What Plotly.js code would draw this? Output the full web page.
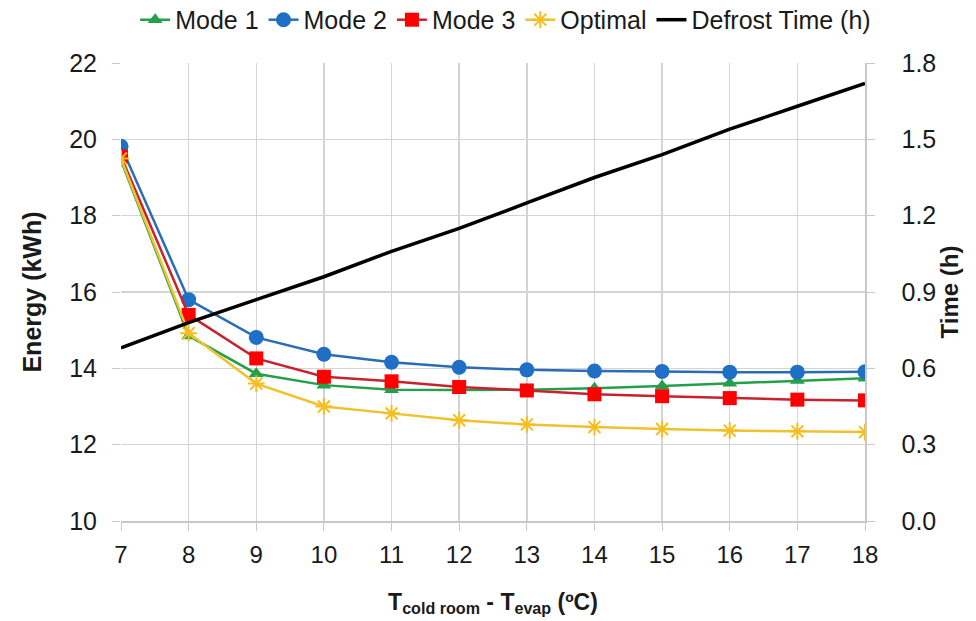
<!DOCTYPE html>
<html>
<head>
<meta charset="utf-8">
<script src="https://cdn.plot.ly/plotly-3.0.1.min.js"></script>
<style>html,body{margin:0;padding:0;background:#fff;}#chart{width:976px;height:621px;}</style>
</head>
<body>
<div id="chart"></div>
<script>
const deltaT = [7, 8, 9, 10, 11, 12, 13, 14, 15, 16, 17, 18];
const mode1 = [19.45, 14.85, 13.86, 13.56, 13.44, 13.43, 13.44, 13.48, 13.54, 13.61, 13.68, 13.74];
const mode2 = [19.82, 15.8, 14.81, 14.37, 14.16, 14.03, 13.96, 13.93, 13.92, 13.9, 13.9, 13.91];
const mode3 = [19.55, 15.4, 14.26, 13.78, 13.66, 13.51, 13.42, 13.32, 13.27, 13.22, 13.18, 13.16];
const optimal = [19.5, 14.92, 13.6, 13.0, 12.82, 12.64, 12.53, 12.46, 12.41, 12.37, 12.35, 12.33];
const defrostTime = [0.68, 0.78, 0.87, 0.96, 1.06, 1.15, 1.25, 1.35, 1.44, 1.54, 1.63, 1.72];

const FONT = 'Liberation Sans, Arial, sans-serif';
const TXT = '#1a1a1a';

const traces = [
  {x: deltaT, y: mode1, name: 'Mode 1', mode: 'lines+markers', type: 'scatter',
   line: {color: '#23a049', width: 2.5}, marker: {symbol: 'triangle-up', size: 13, color: '#23a049'}},
  {x: deltaT, y: mode2, name: 'Mode 2', mode: 'lines+markers', type: 'scatter',
   line: {color: '#2a6cb5', width: 2.5}, marker: {symbol: 'circle', size: 15, color: '#1f6fc6'}},
  {x: deltaT, y: mode3, name: 'Mode 3', mode: 'lines+markers', type: 'scatter',
   line: {color: '#c8222e', width: 2.5}, marker: {symbol: 'square', size: 14, color: '#ff0000'}},
  {x: deltaT, y: optimal, name: 'Optimal', mode: 'lines+markers', type: 'scatter',
   line: {color: '#f2c12e', width: 2.5}, marker: {symbol: 'asterisk-open', size: 14, color: '#f5bd1f', line: {color: '#f5bd1f', width: 2}}},
  {x: deltaT, y: defrostTime, name: 'Defrost Time (h)', mode: 'lines', type: 'scatter', yaxis: 'y2',
   line: {color: '#000000', width: 3.5}}
];

const layout = {
  width: 976, height: 621,
  margin: {l: 121, r: 111, t: 63, b: 100, autoexpand: false},
  paper_bgcolor: '#ffffff', plot_bgcolor: '#ffffff',
  font: {family: FONT, size: 24, color: TXT},
  showlegend: true,
  legend: {orientation: 'h', x: 0.517, xanchor: 'center', y: 1.094, yanchor: 'middle',
           font: {family: FONT, size: 25, color: TXT}, itemwidth: 30,
           bgcolor: 'rgba(0,0,0,0)'},
  xaxis: {
    range: [7, 18], tickmode: 'linear', tick0: 7, dtick: 1,
    showgrid: true, gridcolor: '#d4d4d4', gridwidth: 1.5,
    showline: true, linecolor: '#c8c8c8', linewidth: 1.5,
    ticks: 'outside', ticklen: 8, tickcolor: '#c8c8c8', ticklabelstandoff: 4,
    zeroline: false,
    tickfont: {family: FONT, size: 24, color: TXT},
    title: {text: '<b>T<sub>cold room</sub> - T<sub>evap</sub> (ºC)</b>', font: {family: FONT, size: 23, color: TXT}, standoff: 26}
  },
  yaxis: {
    range: [10, 22], tickmode: 'linear', tick0: 10, dtick: 2,
    showgrid: true, gridcolor: '#d4d4d4', gridwidth: 1.5,
    showline: false, zeroline: false,
    ticks: 'outside', ticklen: 8, tickcolor: '#c8c8c8', ticklabelstandoff: 10,
    tickfont: {family: FONT, size: 25, color: TXT},
    title: {text: '<b>Energy (kWh)</b>', font: {family: FONT, size: 25, color: TXT}, standoff: 20}
  },
  yaxis2: {
    range: [0, 1.8], tickmode: 'linear', tick0: 0, dtick: 0.3, tickformat: '.1f',
    overlaying: 'y', side: 'right',
    showgrid: false, zeroline: false,
    showline: true, linecolor: '#c8c8c8', linewidth: 1.5,
    ticks: 'outside', ticklen: 8, tickcolor: '#c8c8c8', ticklabelstandoff: 22,
    tickfont: {family: FONT, size: 25, color: TXT},
    title: {text: '<b>Time (h)</b>', font: {family: FONT, size: 24, color: TXT}, standoff: 4}
  }
};

Plotly.newPlot('chart', traces, layout, {displayModeBar: false, staticPlot: true});
</script>
</body>
</html>
